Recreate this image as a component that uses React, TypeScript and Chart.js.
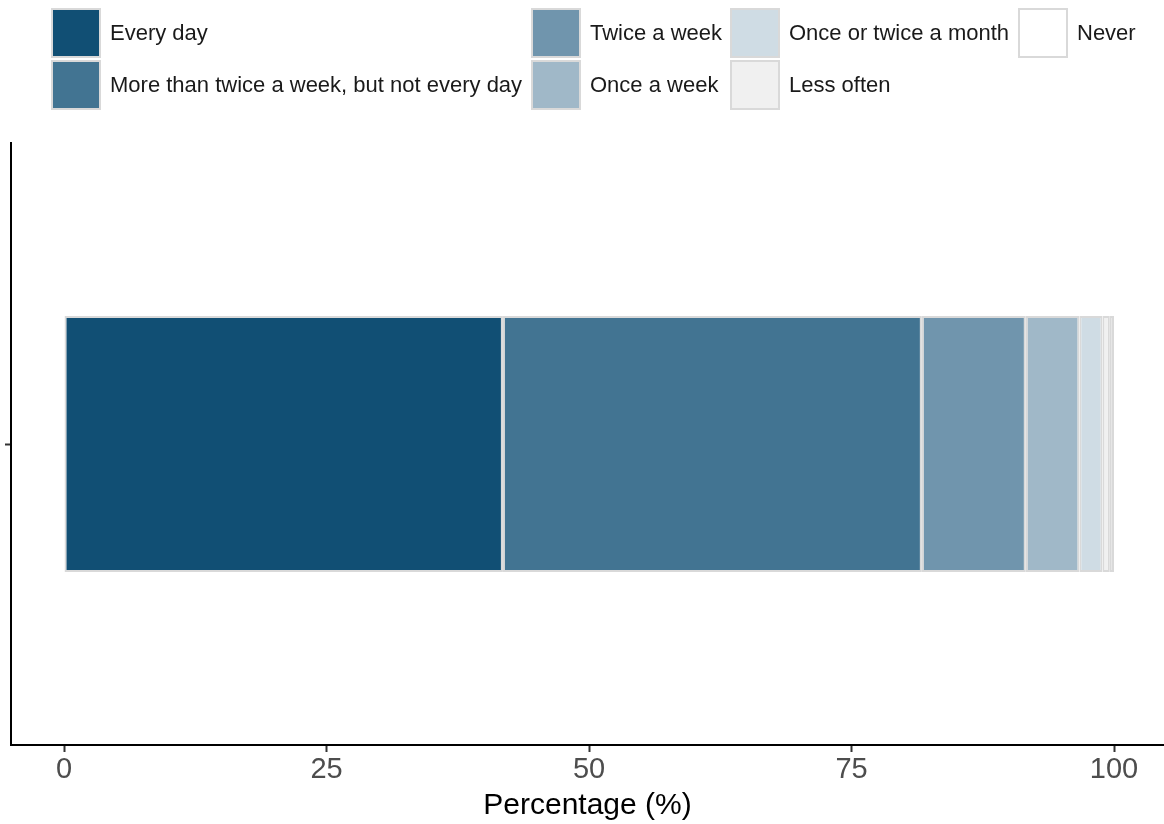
import React, { useEffect, useRef } from "react";
import { Chart, registerables } from "chart.js";

Chart.register(...registerables);

const categories: string[] = [""];
const seriesLabels: string[] = [
  "Every day",
  "More than twice a week, but not every day",
  "Twice a week",
  "Once a week",
  "Once or twice a month",
  "Less often",
  "Never",
];
const seriesValues: number[] = [41.8, 39.9, 9.9, 5.1, 2.2, 0.7, 0.4];
const seriesColors: string[] = [
  "#114f74",
  "#427492",
  "#7095ad",
  "#a0b8c8",
  "#cfdce4",
  "#f0f0f0",
  "#ffffff",
];
const xTicks: number[] = [0, 25, 50, 75, 100];
const axisTitle = "Percentage (%)";

// legend layout: column x (swatch left), row index
const legendCols: number[] = [52, 532, 731, 1019];
const legendPlacement: [number, number][] = [
  [0, 0],
  [0, 1],
  [1, 0],
  [1, 1],
  [2, 0],
  [2, 1],
  [3, 0],
];

const FONT = "'Liberation Sans', Arial, sans-serif";

const legendPlugin = {
  id: "customLegend",
  afterDraw(chart: any) {
    const ctx = chart.ctx;
    ctx.save();
    const size = 48;
    const rowTops = [9, 61];
    seriesLabels.forEach((label, i) => {
      const [c, r] = legendPlacement[i];
      const x = legendCols[c];
      const y = rowTops[r];
      ctx.fillStyle = "#d9d9d9";
      ctx.fillRect(x - 1, y - 1, size + 2, size + 2);
      ctx.fillStyle = seriesColors[i];
      ctx.fillRect(x + 1, y + 1, size - 2, size - 2);
      ctx.fillStyle = "#1a1a1a";
      ctx.font = `22px ${FONT}`;
      ctx.textBaseline = "middle";
      ctx.textAlign = "left";
      ctx.fillText(label, x + 58, y + size / 2 + 1);
    });
    ctx.restore();
  },
};

export default function App() {
  const ref = useRef<HTMLCanvasElement | null>(null);
  useEffect(() => {
    document.body.style.margin = "0";
    const canvas = ref.current!;
    const chart = new Chart(canvas, {
      type: "bar",
      data: {
        labels: categories,
        datasets: seriesLabels.map((label, i) => ({
          label,
          data: [seriesValues[i]],
          backgroundColor: seriesColors[i],
          borderColor: "#d9d9d9",
          borderWidth: 2,
          borderSkipped: false,
          barPercentage: 0.425,
          categoryPercentage: 1,
        })),
      },
      options: {
        indexAxis: "y",
        responsive: false,
        animation: false,
        layout: { padding: { top: 143, left: 0, right: 0, bottom: 0 } },
        plugins: {
          legend: { display: false },
          tooltip: { enabled: false },
        },
        scales: {
          x: {
            type: "linear",
            stacked: true,
            min: -5.05,
            max: 104.76,
            afterBuildTicks: (scale: any) => {
              scale.ticks = xTicks.map((v) => ({ value: v }));
            },
            afterFit: (scale: any) => {
              scale.height = 79;
            },
            grid: {
              drawOnChartArea: false,
              drawTicks: true,
              tickLength: 7,
              tickWidth: 2,
              color: "#333333",
            },
            border: { display: true, color: "#000000", width: 2 },
            ticks: {
              color: "#4d4d4d",
              font: { family: FONT, size: 29 },
              padding: 1,
              maxRotation: 0,
              autoSkip: false,
            },
            title: {
              display: true,
              text: axisTitle,
              color: "#000000",
              font: { family: FONT, size: 30 },
              padding: { top: 0, bottom: 0 },
            },
          },
          y: {
            type: "category",
            stacked: true,
            afterFit: (scale: any) => {
              scale.width = 11;
            },
            grid: {
              offset: false,
              drawOnChartArea: false,
              drawTicks: true,
              tickLength: 6,
              tickWidth: 2,
              color: "#333333",
            },
            border: { display: true, color: "#000000", width: 2 },
            ticks: { display: false },
          },
        },
      },
      plugins: [legendPlugin],
    });
    return () => chart.destroy();
  }, []);
  return (
    <div style={{ width: 1164, height: 824 }}>
      <canvas ref={ref} width={1164} height={824} style={{ display: "block" }} />
    </div>
  );
}
